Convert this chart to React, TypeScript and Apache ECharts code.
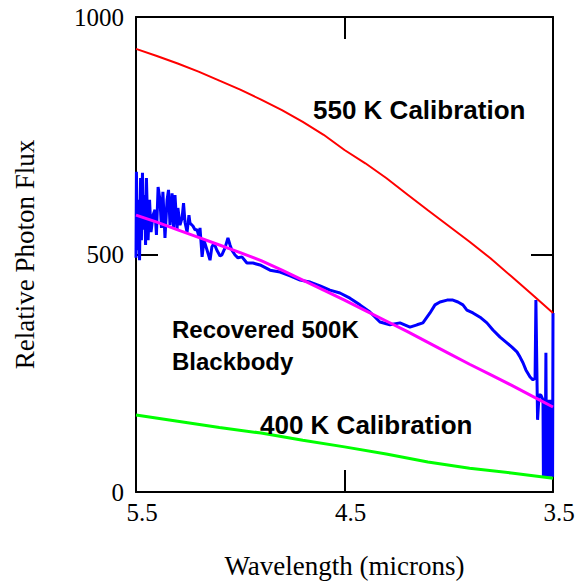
import React, { useEffect, useRef } from "react";
import * as echarts from "echarts";

// Wavelength (microns) and relative photon flux readings
const redWavelengths = [5.5, 5.4, 5.3, 5.2, 5.1, 5.0, 4.9, 4.8, 4.7, 4.6, 4.5, 4.4, 4.3, 4.2, 4.1, 4.0, 3.9, 3.8, 3.7, 3.6, 3.5];
const redFlux = [933, 918, 902, 885, 866, 847, 826, 804, 779, 752, 720, 692, 661, 627, 593, 560, 527, 492, 454, 416, 377];

const greenWavelengths = [5.5, 5.3, 5.1, 4.9, 4.7, 4.5, 4.3, 4.1, 3.9, 3.7, 3.5];
const greenFlux = [162, 149, 136, 124, 109, 95, 80, 63, 50, 40, 29];

const magentaWavelengths = [5.5, 5.4, 5.3, 5.2, 5.1, 5.0, 4.9, 4.8, 4.7, 4.6, 4.5, 4.4, 4.3, 4.2, 4.1, 4.0, 3.9, 3.8, 3.7, 3.6, 3.5];
const magentaFlux = [583, 568, 552, 536, 520, 504, 487, 467, 446, 425, 404, 382, 360, 338, 315, 292, 269, 247, 225, 202, 179];

const blueWavelengths = [
  5.5, 5.498, 5.493, 5.488, 5.483, 5.478, 5.474, 5.469, 5.464, 5.459, 5.454, 5.45, 5.442, 5.435, 5.428, 5.418,
  5.409, 5.402, 5.394, 5.385, 5.378, 5.371, 5.361, 5.351, 5.344, 5.337, 5.327, 5.32, 5.313, 5.303, 5.299, 5.289,
  5.279, 5.272, 5.265, 5.255, 5.246, 5.241, 5.227, 5.217, 5.207, 5.198, 5.193, 5.183, 5.174, 5.159, 5.145, 5.136,
  5.126, 5.112, 5.097, 5.088, 5.073, 5.059, 5.049, 5.04, 5.025, 5.011, 4.992, 4.968, 4.939, 4.905, 4.857, 4.809,
  4.761, 4.713, 4.665, 4.617, 4.57, 4.522, 4.474, 4.426, 4.378, 4.33, 4.282, 4.234, 4.186, 4.152, 4.124, 4.09,
  4.066, 4.042, 4.008, 3.98, 3.956, 3.932, 3.913, 3.884, 3.85, 3.817, 3.788, 3.754, 3.721, 3.697, 3.673, 3.658,
  3.644, 3.63, 3.61, 3.596, 3.586, 3.582, 3.574, 3.567, 3.558, 3.548, 3.546, 3.541, 3.538, 3.534, 3.531, 3.526,
  3.524, 3.519, 3.517, 3.512, 3.51, 3.505, 3.502, 3.5,
];
const blueFlux = [
  493, 674, 509, 615, 488, 661, 530, 672, 552, 625, 520, 661, 530, 615, 547, 583,
  594, 541, 642, 615, 556, 632, 535, 615, 636, 562, 629, 556, 625, 552, 598, 562,
  577, 608, 568, 547, 583, 566, 560, 552, 552, 537, 556, 495, 530, 509, 488, 516,
  524, 509, 497, 499, 514, 535, 520, 509, 499, 493, 495, 482, 482, 478, 467, 463,
  455, 446, 442, 434, 425, 419, 408, 394, 379, 358, 352, 356, 347, 352, 356, 377,
  394, 400, 404, 404, 400, 394, 383, 377, 368, 356, 341, 326, 314, 305, 295, 284,
  272, 257, 242, 236, 240, 404, 152, 204, 204, 194, 32, 194, 32, 293, 32, 194,
  32, 194, 32, 194, 32, 194, 32, 377,
];

const xTicks = [3.5, 4.5, 5.5];
const yTicks = [0, 500, 1000];

const zip = (xs: number[], ys: number[]) => xs.map((x, i) => [x, ys[i]]);

export default function App() {
  const ref = useRef<HTMLDivElement>(null);
  useEffect(() => {
    if (!ref.current) return;
    const chart = echarts.init(ref.current, null, { renderer: "svg" });
    const serif = "Liberation Serif, Times New Roman, serif";
    const sans = "Liberation Sans, Arial, sans-serif";
    const axisLine = { show: true, onZero: false, lineStyle: { color: "#000", width: 2 } };
    const tick = { show: true, inside: true, length: 22, lineStyle: { color: "#000", width: 2 } };
    const lineSeries = (name: string, data: number[][], color: string, width: number) => ({
      name,
      type: "line",
      data,
      showSymbol: false,
      symbol: "none",
      lineStyle: { color, width },
      itemStyle: { color },
      z: 2,
    });
    chart.setOption({
      animation: false,
      backgroundColor: "#fff",
      grid: { left: 136, right: 25, top: 17, bottom: 92, containLabel: false },
      xAxis: [
        {
          type: "value",
          position: "bottom",
          min: 3.5,
          max: 5.5,
          inverse: true,
          axisLine,
          axisTick: { ...tick, customValues: xTicks },
          axisLabel: {
            customValues: xTicks,
            color: "#000",
            fontFamily: serif,
            fontSize: 25,
            margin: 8,
            padding: [0, 0, 0, 12],
            formatter: (v: number) => v.toFixed(1),
          },
          splitLine: { show: false },
          name: "Wavelength (microns)",
          nameLocation: "middle",
          nameGap: 60,
          nameTextStyle: { color: "#000", fontFamily: serif, fontSize: 27 },
        },
        {
          type: "value",
          position: "top",
          min: 3.5,
          max: 5.5,
          inverse: true,
          axisLine,
          axisTick: { ...tick, customValues: xTicks },
          axisLabel: { show: false, customValues: xTicks },
          splitLine: { show: false },
        },
      ],
      yAxis: [
        {
          type: "value",
          position: "left",
          min: 0,
          max: 1000,
          interval: 500,
          axisLine,
          axisTick: { ...tick, customValues: yTicks },
          axisLabel: {
            color: "#000",
            fontFamily: serif,
            fontSize: 25,
            margin: 12,
            padding: [6, 0, 0, 0],
            formatter: (v: number) => String(v),
          },
          splitLine: { show: false },
          name: "Relative Photon Flux",
          nameLocation: "middle",
          nameRotate: 90,
          nameGap: 98,
          nameTextStyle: { color: "#000", fontFamily: serif, fontSize: 27 },
        },
        {
          type: "value",
          position: "right",
          min: 0,
          max: 1000,
          interval: 500,
          axisLine,
          axisTick: { ...tick, customValues: yTicks },
          axisLabel: { show: false },
          splitLine: { show: false },
        },
      ],
      series: [
        lineSeries("Recovered 500K", zip(blueWavelengths, blueFlux), "#0000ff", 3),
        lineSeries("500K Blackbody", zip(magentaWavelengths, magentaFlux), "#ff00ff", 3),
        lineSeries("550 K Calibration", zip(redWavelengths, redFlux), "#ff0000", 2),
        lineSeries("400 K Calibration", zip(greenWavelengths, greenFlux), "#00ff00", 3),
      ],
      graphic: [
        {
          type: "text",
          left: 313,
          top: 97,
          style: { text: "550 K Calibration", font: `bold 26px ${sans}`, fill: "#000" },
          z: 10,
        },
        {
          type: "text",
          left: 172,
          top: 313,
          style: { text: "Recovered 500K\nBlackbody", font: `bold 24px ${sans}`, fill: "#000", lineHeight: 32 },
          z: 10,
        },
        {
          type: "text",
          left: 260,
          top: 412,
          style: { text: "400 K Calibration", font: `bold 26px ${sans}`, fill: "#000" },
          z: 10,
        },
      ],
    });
    return () => chart.dispose();
  }, []);
  return <div ref={ref} style={{ position: "fixed", left: 0, top: 0, width: 578, height: 584 }} />;
}
